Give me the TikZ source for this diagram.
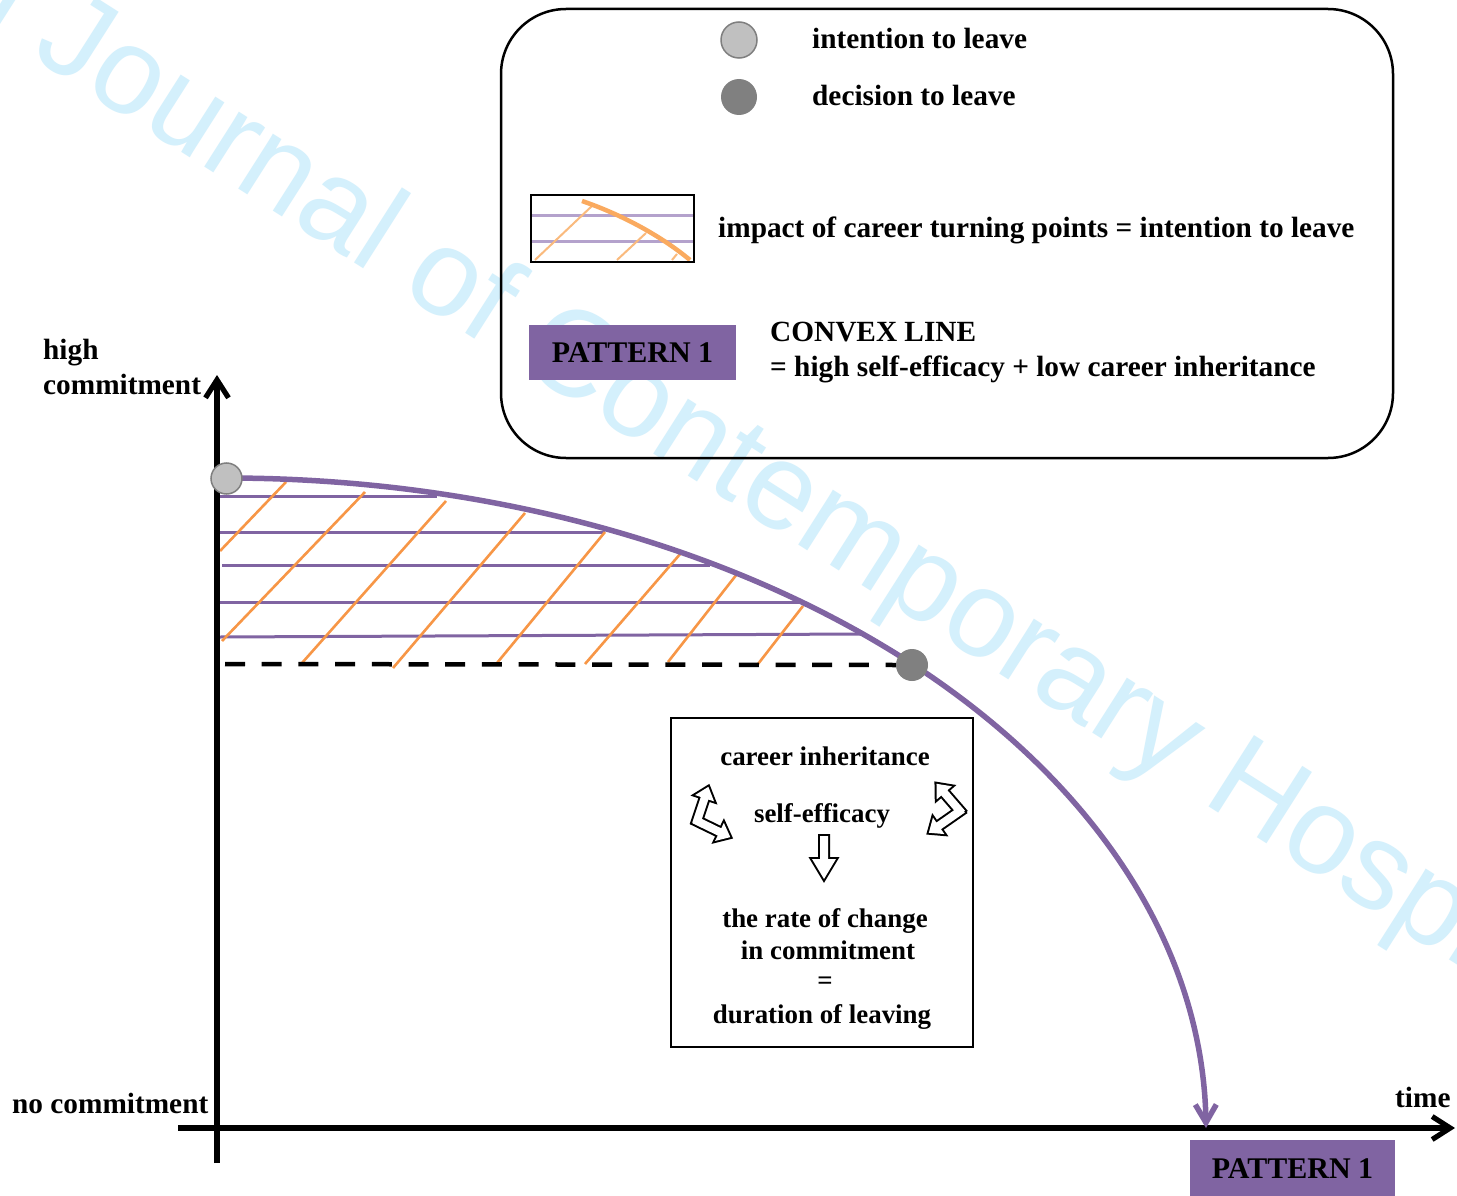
\documentclass[tikz,border=0pt]{standalone}
\usepackage{fontspec}
\setmainfont{Liberation Serif}
\setsansfont{Liberation Sans}
\usetikzlibrary{arrows.meta}

\definecolor{curvepurple}{RGB}{128,100,162}
\definecolor{hatchorange}{RGB}{247,150,70}
\definecolor{lightpurple}{RGB}{180,162,204}
\definecolor{lightorange}{RGB}{250,186,125}
\definecolor{swatchorange}{RGB}{250,170,95}
\definecolor{markgrey}{RGB}{192,192,192}
\definecolor{markborder}{RGB}{127,127,127}
\definecolor{darkmark}{RGB}{128,128,128}
\definecolor{watermark}{RGB}{212,240,252}

% one arm of a hollow block arrow: x, y, angle, length, shaft half width,
% head half width, head length, tail overhang
\newcommand\HArmShape[8]{%
  \begin{scope}[shift={(#1,#2)}, rotate=#3]
    \path[harm] (-#8,-#5) -- ({#4-#7},-#5) -- ({#4-#7},-#6) -- (#4,0)
      -- ({#4-#7},#6) -- ({#4-#7},#5) -- (-#8,#5) -- cycle;
  \end{scope}}
\newcommand\HArrows{%
  \HArmShape{697}{821}{71.6}{36}{4}{10}{12}{3}%
  \HArmShape{697}{821}{-25.9}{37}{4}{10}{12}{3}%
  \HArmShape{960}{811}{130.8}{36}{4}{10}{12}{3}%
  \HArmShape{960}{811}{-145.1}{38}{4}{10}{12}{3}%
  \HArmShape{824}{836}{-90}{43}{4}{12}{20}{0}}

\tikzset{
  lbl/.style={font=\fontsize{29.3}{35}\selectfont\bfseries, inner sep=0pt},
  boxlbl/.style={font=\fontsize{26.9}{32}\selectfont\bfseries, inner sep=0pt},
  patternbox/.style={fill=curvepurple, inner sep=0pt,
    font=\fontsize{30}{36}\selectfont\bfseries},
  axisline/.style={line width=5.2pt, -{Straight Barb[length=18pt,width=23pt]}},
  hatchline/.style={curvepurple, line width=3pt},
  slantline/.style={hatchorange, line width=2.6pt},
  marker/.style={circle, inner sep=0pt, minimum size=#1},
}

\begin{document}
\begin{tikzpicture}[x=1pt, y=-1pt]
\useasboundingbox (0,0) rectangle (1457,1196);
\fill[white] (0,0) rectangle (1457,1196);

% watermark in the background
\begin{scope}
  \clip (0,0) rectangle (1457,1196);
  \node[anchor=base west, inner sep=0pt, rotate=-32.5, text=watermark,
    font=\sffamily\fontsize{123}{123}\selectfont] (wm) at (30,56)
    {\llap{International }Journal of Contemporary Hospitality Management};
\end{scope}

% legend
\node[draw, line width=2.5pt, rounded corners=65, minimum width=892,
  minimum height=449, inner sep=0pt] (legend) at (947,233.5) {};
\node[marker=36, fill=markgrey, draw=markborder, line width=1.5pt] (lgintent) at (739,40) {};
\node[lbl, anchor=base west] (lgintenttxt) at (812,49) {intention to leave};
\node[marker=36, fill=darkmark] (lgdecide) at (739,97) {};
\node[lbl, anchor=base west] (lgdecidetxt) at (812,106) {decision to leave};

\begin{scope}
  \clip (531,195) rectangle (694,262);
  \draw[lightpurple, line width=3pt] (531,215) -- (694,215) (531,241) -- (694,241);
  \draw[lightorange, line width=2pt] (535,260) -- (593,205) (617,260) -- (646,233)
    (672,260) -- (677,254);
  \draw[swatchorange, line width=4.5pt] (582,201) .. controls (620,214) and (660,235) .. (690,260);
\end{scope}
\node[draw, line width=2.2pt, minimum width=163, minimum height=67, inner sep=0pt]
  (swatch) at (612.5,228.5) {};
\node[lbl, anchor=base west] (swatchtxt) at (718,237)
  {impact of career turning points = intention to leave};

\node[patternbox, minimum width=207, minimum height=55] (lgpattern) at (632.5,352.5) {PATTERN 1};
\node[lbl, anchor=base west] (convex) at (770,341) {CONVEX LINE};
\node[lbl, anchor=base west] (convexdef) at (770,376)
  {= high self-efficacy + low career inheritance};

% hatched area below the curve
\draw[hatchline] (220,496) -- (437,496);
\draw[hatchline] (220,532) -- (605,532);
\draw[hatchline] (222,565) -- (710,565);
\draw[hatchline] (220,602) -- (802,602);
\draw[hatchline] (220,637) -- (862,634);
\draw[slantline] (220,551) -- (286,482);
\draw[slantline] (222,641) -- (365,492);
\draw[slantline] (302,663) -- (446,501);
\draw[slantline] (393,668) -- (525,513);
\draw[slantline] (497,663) -- (605,532);
\draw[slantline] (585,664) -- (681,553);
\draw[slantline] (668,662) -- (737,574);
\draw[slantline] (758,664) -- (803,606);

% axes
\coordinate (ybottom) at (217,1163);
\coordinate (ytop) at (217,375);
\coordinate (xleft) at (178,1128);
\coordinate (xright) at (1455,1128);
\draw[axisline] (ybottom) -- (ytop);
\draw[axisline] (xleft) -- (xright);
\node[lbl, anchor=base west] (high) at (43,359) {high};
\node[lbl, anchor=base west] (commit) at (43,394) {commitment};
\node[lbl, anchor=base west] (nocommit) at (12,1113) {no commitment};
\node[lbl, anchor=base west] (time) at (1395,1107) {time};

% commitment curve
\draw[curvepurple, line width=5.5pt, -{Straight Barb[length=18pt,width=21pt]}]
  plot[variable=\t, domain=0:90, samples=91, smooth]
  ({226+980*sin(\t)},{1128-650*cos(\t)});

% threshold of the decision
\node[marker=32, fill=darkmark] (decide) at (912,665) {};
\coordinate (dashstart) at (225,664);
\draw[line width=4.5pt, dash pattern=on 20pt off 16.7pt] (dashstart) -- (decide.west);
\node[marker=31, fill=markgrey, draw=markborder, line width=1.5pt] (intent) at (226.5,478.5) {};

% mechanism box
\node[draw, line width=2.6pt, minimum width=302, minimum height=329, inner sep=0pt]
  (mech) at (822,882.5) {};
\node[boxlbl, anchor=base] (inherit) at (825,765) {career inheritance};
\node[boxlbl, anchor=base] (efficacy) at (822,822) {self-efficacy};
\node[boxlbl, anchor=base] (rate) at (825,927) {the rate of change};
\node[boxlbl, anchor=base] (incommit) at (828,959) {in commitment};
\node[boxlbl, anchor=base] (equals) at (825,989) {=};
\node[boxlbl, anchor=base] (duration) at (822,1023) {duration of leaving};

\begin{scope}[harm/.style={draw=black, line width=4pt, line join=miter}]
  \HArrows
\end{scope}
\begin{scope}[harm/.style={fill=white}]
  \HArrows
\end{scope}

% pattern label at the end of the curve
\node[patternbox, minimum width=205, minimum height=57] (endpattern) at (1292.5,1168.5) {PATTERN 1};
\end{tikzpicture}
\end{document}
